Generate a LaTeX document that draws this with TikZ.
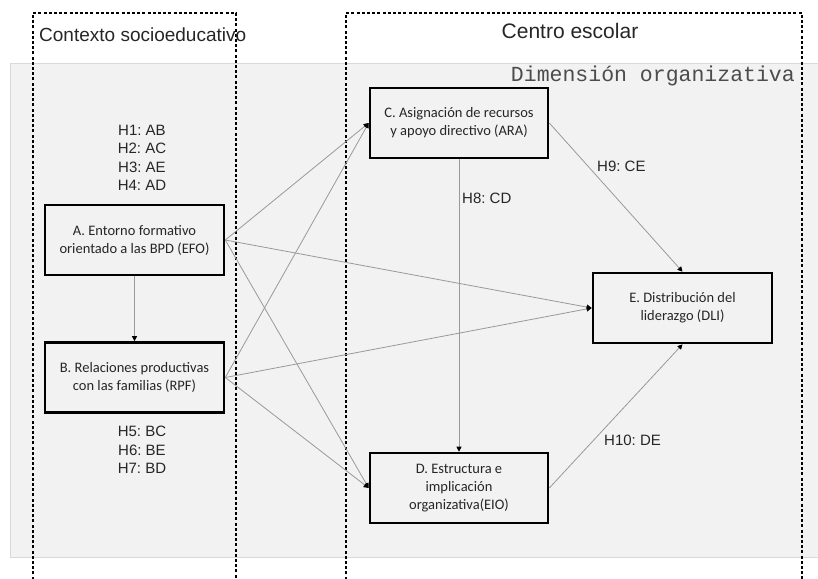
\documentclass[tikz,border=0pt]{standalone}
\usepackage{fontspec}
\usetikzlibrary{arrows.meta}
\newfontfamily\arialf{Liberation Sans}
\newfontfamily\calibf{Carlito}
\newfontfamily\courf{Liberation Mono}
\frenchspacing
\begin{document}
\begin{tikzpicture}[x=1pt,y=-1pt,
  varbox/.style={draw=black,line width=2.6pt,fill=none,minimum width=179pt,minimum height=70pt,align=center,inner sep=0pt,text=black!85,font=\calibf\fontsize{14.5}{18}\selectfont},
  hyp/.style={font=\arialf\fontsize{15}{18.5}\selectfont,align=center,inner sep=0pt,text=black!85},
  conn/.style={draw=black!40,line width=0.8pt,-{Triangle[length=5pt,width=5pt,color=black]}},
  zone/.style={draw=black,line width=1.6pt,dash pattern=on 3pt off 2.2pt}]
\useasboundingbox (0,0) rectangle (818,578);
\fill[white] (0,0) rectangle (818,578);
\draw[fill=black!5,draw=black!15,line width=0.6pt] (10,63) rectangle (830,557);
\draw[zone] (33,590) -- (33,13) -- (236,13) -- (236,590);
\draw[zone] (346,590) -- (346,13) -- (802,13) -- (802,590);
\node[font=\arialf\fontsize{19}{22}\selectfont,anchor=west,inner sep=0pt,text=black!85] (ctx) at (39,35) {Contexto socioeducativo};
\node[font=\arialf\fontsize{21}{24}\selectfont,inner sep=0pt,text=black!85] (cen) at (570,31) {Centro escolar};
\node[font=\courf\fontsize{21.5}{24}\selectfont,anchor=east,inner sep=0pt,text=black!70] (dim) at (795,76) {Dimensión organizativa};
\node[varbox] (A) at (134.5,240) {A. Entorno formativo\\orientado a las BPD (EFO)};
\node[varbox] (B) at (134.5,377.5) {B. Relaciones productivas\\con las familias (RPF)};
\node[varbox,minimum width=178pt] (C) at (459,123) {C. Asignación de recursos\\y apoyo directivo (ARA)};
\node[varbox,minimum width=178pt] (D) at (459,488) {D. Estructura e\\implicación\\organizativa(EIO)};
\node[varbox] (E) at (682.5,308) {E. Distribución del\\liderazgo (DLI)};
\node[hyp] (h14) at (142,158) {H1: AB\\H2: AC\\H3: AE\\H4: AD};
\node[hyp] (h57) at (142,450) {H5: BC\\H6: BE\\H7: BD};
\node[hyp,anchor=west] (h8) at (462,198) {H8: CD};
\node[hyp,anchor=west] (h9) at (597,166) {H9: CE};
\node[hyp,anchor=west] (h10) at (604,440) {H10: DE};
\draw[conn] (A) -- (B);
\draw[conn] (A.east) -- (C.west);
\draw[conn] (A.east) -- (E.west);
\draw[conn] (A.east) -- (D.west);
\draw[conn] (B.east) -- (C.west);
\draw[conn] (B.east) -- (E.west);
\draw[conn] (B.east) -- (D.west);
\draw[conn] (C) -- (D);
\draw[conn] (C.east) -- (E.north);
\draw[conn] (D.east) -- (E.south);
\end{tikzpicture}
\end{document}
